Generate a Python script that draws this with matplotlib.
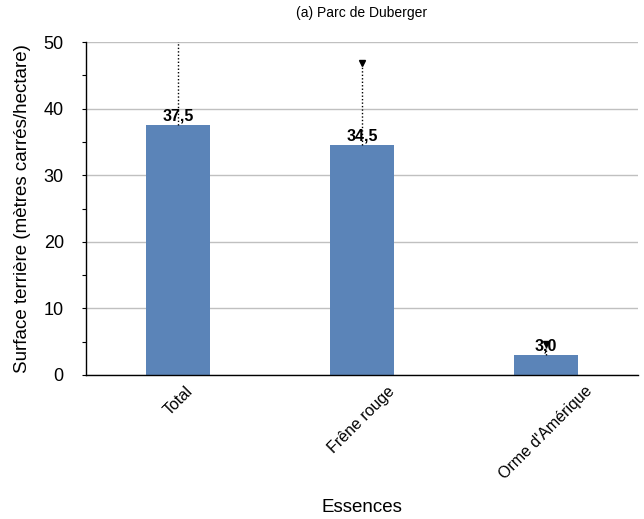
import matplotlib.pyplot as plt
import numpy as np

plt.rcParams['font.family'] = ['Liberation Sans', 'DejaVu Sans']

species = ["Total", "Frêne rouge", "Orme d'Amérique"]
basal_area = [37.5, 34.5, 3.0]
err_upper = [13.5, 12.3, 1.6]
value_labels = ["37,5", "34,5", "3,0"]

fig = plt.figure(figsize=(6.44, 5.19), dpi=100)
ax = fig.add_axes([0.1335, 0.2775, 0.857, 0.6415])

x = np.arange(len(species))
ax.bar(x, basal_area, width=0.35, color="#5b84b8", zorder=2)

# upper error only, dotted with a small triangular cap
tops = np.array(basal_area) + np.array(err_upper)
ax.vlines(x, basal_area, tops, colors="black", linestyles=(0, (1, 1.5)),
          linewidth=1, zorder=3)
ax.plot(x, tops, linestyle="none", marker="v", color="black",
        markersize=4, zorder=3, clip_on=True)

for xi, v, lab in zip(x, basal_area, value_labels):
    ax.text(xi, v + 0.3, lab, ha="center", va="bottom", fontsize=11.5,
            fontweight="bold", zorder=4)

ax.set_xlim(-0.5, 2.5)
ax.set_ylim(0, 50)
ax.set_yticks(np.arange(0, 51, 10))
ax.set_yticks(np.arange(5, 50, 10), minor=True)
ax.yaxis.grid(True, color="#c0c0c0", linewidth=1, zorder=0)
ax.set_axisbelow(True)
ax.tick_params(axis="y", which="both", direction="out", length=3,
               labelsize=13, width=0.8, pad=13)
ax.tick_params(axis="x", length=0, labelsize=11.5, pad=6)
ax.set_xticks(x)
ax.set_xticklabels(species, rotation=45, ha="center")

for side in ["top", "right"]:
    ax.spines[side].set_visible(False)
ax.spines["left"].set_linewidth(1)
ax.spines["bottom"].set_linewidth(1)

ax.set_title("(a) Parc de Duberger", fontsize=10, pad=18)
ax.set_ylabel("Surface terrière (mètres carrés/hectare)", fontsize=13.5,
              labelpad=9)
ax.set_xlabel("Essences", fontsize=13.5, labelpad=12)

fig.savefig("out.png", dpi=100)
